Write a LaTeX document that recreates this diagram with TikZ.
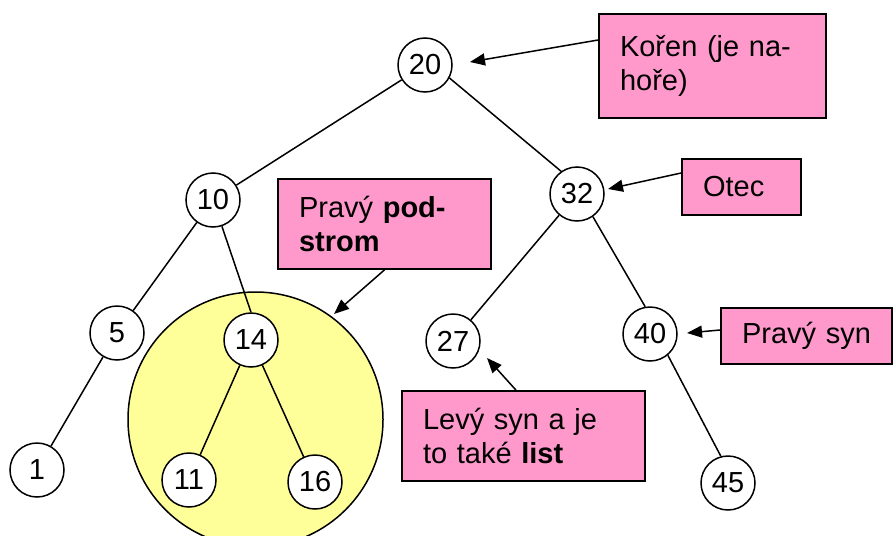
\documentclass[tikz,border=0pt]{standalone}
\usepackage{fontspec}
\setmainfont{Liberation Sans}
\usetikzlibrary{arrows.meta}
\definecolor{boxpink}{RGB}{255,153,204}
\definecolor{subyellow}{RGB}{255,255,153}
\begin{document}
\begin{tikzpicture}[x=1pt,y=-1pt,
  treenode/.style={circle,draw=black,line width=1.5pt,fill=white,minimum size=54pt,inner sep=0pt,font=\fontsize{29}{33}\selectfont},
  edge/.style={line width=1.5pt},
  labelbox/.style={rectangle,draw=black,line width=1.7pt,fill=boxpink,inner xsep=21pt,inner ysep=0pt,align=left,font=\fontsize{29}{34}\selectfont},
  pointer/.style={line width=1.5pt,-{Triangle[length=15pt,width=12pt]}}]
\useasboundingbox (0,0) rectangle (893,535);
\clip (0,0) rectangle (893,535);
\fill[white] (0,0) rectangle (893,535);

% subtree highlight
\draw[line width=1.5pt,fill=subyellow] (255.5,419.5) circle[radius=127.5pt];

% tree nodes
\node[treenode] (n20) at (425,65) {20};
\node[treenode] (n10) at (213,200) {10};
\node[treenode] (n32) at (577,194) {32};
\node[treenode] (n5) at (117,333) {5};
\node[treenode] (n14) at (251,340) {14};
\node[treenode] (n27) at (453,341) {27};
\node[treenode] (n40) at (650,334) {40};
\node[treenode] (n1) at (37,470) {1};
\node[treenode] (n11) at (189,480) {11};
\node[treenode] (n16) at (315,482) {16};
\node[treenode] (n45) at (728,483) {45};

% tree edges
\draw[edge] (n20) -- (n10);
\draw[edge] (n20.-28) -- (n32.125);
\draw[edge] (n10) -- (n5);
\draw[edge] (n10) -- (n14.north);
\draw[edge] (n5) -- (n1);
\draw[edge] (n14) -- (n11);
\draw[edge] (n14) -- (n16);
\draw[edge] (n32) -- (n27);
\draw[edge] (n32.-55) -- (n40.100);
\draw[edge] (n40.-50) -- (n45.105);

% label boxes
\node[labelbox,text width=185pt,minimum height=104pt] (koren) at (712.5,66) {Kořen (je na-\\hoře)};
\node[labelbox,text width=77pt,minimum height=56pt] (otec) at (741.5,187) {Otec};
\node[labelbox,text width=171pt,minimum height=90pt] (podstrom) at (384.5,224) {Pravý \textbf{pod-}\\\textbf{strom}};
\node[labelbox,text width=129pt,minimum height=56pt] (pravysyn) at (806.5,336) {\mbox{Pravý syn}};
\node[labelbox,text width=201pt,minimum height=90pt] (levysyn) at (523.5,436) {Levý syn a je\\to také \textbf{list}};

% pointer tips
\coordinate (tKoren) at (470,62);
\coordinate (tOtec) at (608,189);
\coordinate (tPodstrom) at (334,314);
\coordinate (tPravy) at (687,333);
\coordinate (tLevy) at (487,358);

\draw[pointer] ([yshift=26pt]koren.west) -- (tKoren);
\draw[pointer] ([yshift=14pt]otec.west) -- (tOtec);
\draw[pointer] (podstrom.south) -- (tPodstrom);
\draw[pointer] ([yshift=6pt]pravysyn.west) -- (tPravy);
\draw[pointer] ([xshift=-7.5pt]levysyn.north) -- (tLevy);
\end{tikzpicture}
\end{document}
